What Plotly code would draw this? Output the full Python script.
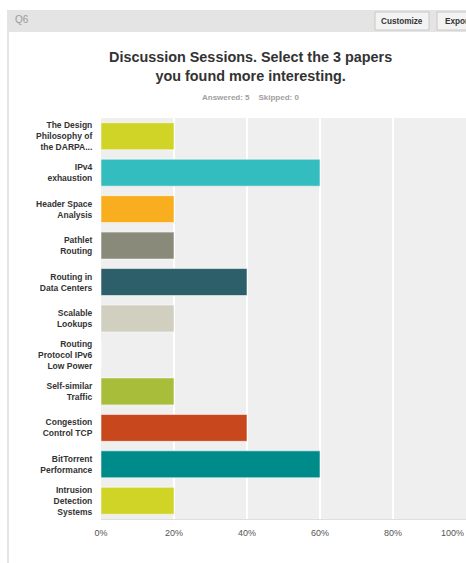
import plotly.graph_objects as go

categories = [
    "The Design<br>Philosophy of<br>the DARPA...",
    "IPv4<br>exhaustion",
    "Header Space<br>Analysis",
    "Pathlet<br>Routing",
    "Routing in<br>Data Centers",
    "Scalable<br>Lookups",
    "Routing<br>Protocol IPv6<br>Low Power",
    "Self-similar<br>Traffic",
    "Congestion<br>Control TCP",
    "BitTorrent<br>Performance",
    "Intrusion<br>Detection<br>Systems",
]
values = [20, 60, 20, 20, 40, 20, 0, 20, 40, 60, 20]
colors = ["#cfd426", "#33bdbf", "#f8ae1f", "#898a79", "#2d5f6b", "#d0cfc0",
          "#cccccc", "#a8bd3a", "#c9471d", "#008b8b", "#cfd426"]
tick_vals = [0, 20, 40, 60, 80, 100]
tick_text = ["0%", "20%", "40%", "60%", "80%", "100%"]

W, H = 466, 563
L, R, T = 101, 0, 118
B = H - 519
PW, PH = W - L - R, H - T - B

def px(x):
    return (x - L) / PW

def py(y):
    return 1 - (y - T) / PH

FONT = "Liberation Sans, Arial, sans-serif"
TICKFONT = dict(family=FONT, size=9, color="#555555")

fig = go.Figure(go.Bar(
    x=values, y=categories, orientation="h",
    marker=dict(color=colors, line=dict(color="rgba(255,255,255,0.55)", width=1)),
    hoverinfo="skip",
))

shapes = [
    dict(type="rect", xref="paper", yref="paper", x0=px(7), x1=px(470), y0=py(10), y1=py(32),
         fillcolor="#e4e4e4", line=dict(width=0), layer="below"),
    dict(type="rect", xref="paper", yref="paper", x0=px(7), x1=px(9), y0=py(10), y1=py(570),
         fillcolor="#e4e4e4", line=dict(width=0), layer="below"),
    dict(type="rect", xref="paper", yref="paper", x0=px(375), x1=px(429), y0=py(12), y1=py(30),
         fillcolor="#f3f3f3", line=dict(color="#c8c8c8", width=1), layer="below"),
    dict(type="rect", xref="paper", yref="paper", x0=px(437), x1=px(490), y0=py(12), y1=py(30),
         fillcolor="#f3f3f3", line=dict(color="#c8c8c8", width=1), layer="below"),
]

annotations = [
    dict(text="Q6", x=px(13), y=py(20), xref="paper", yref="paper", xanchor="left", yanchor="middle",
         showarrow=False, font=dict(family=FONT, size=10, color="#9a9a9a")),
    dict(text="<b>Customize</b>", x=px(402), y=py(21), xref="paper", yref="paper", xanchor="center",
         yanchor="middle", showarrow=False, font=dict(family=FONT, size=8.2, color="#333333")),
    dict(text="<b>Expor</b>", x=px(443), y=py(21), xref="paper", yref="paper", xanchor="left",
         yanchor="middle", showarrow=False, font=dict(family=FONT, size=8.2, color="#333333")),
    dict(text="<b>Discussion Sessions. Select the 3 papers<br>you found more interesting.</b>",
         x=px(250), y=py(66), xref="paper", yref="paper", xanchor="center", yanchor="middle",
         showarrow=False, font=dict(family=FONT, size=14.4, color="#333333")),
    dict(text="<b>Answered: 5&nbsp;&nbsp;&nbsp;&nbsp;Skipped: 0</b>",
         x=px(250), y=py(97), xref="paper", yref="paper", xanchor="center", yanchor="middle",
         showarrow=False, font=dict(family=FONT, size=8, color="#a0a0a0")),
    # last tick label, kept inside the visible page like in the reference
    dict(text=tick_text[-1], x=tick_vals[-1], xref="x", y=py(533), yref="paper",
         xanchor="right", yanchor="middle", showarrow=False, font=TICKFONT),
]

fig.update_layout(
    width=W, height=H,
    margin=dict(l=L, r=R, t=T, b=B, pad=0),
    paper_bgcolor="white", plot_bgcolor="#efefef",
    bargap=0.26, showlegend=False,
    shapes=shapes, annotations=annotations,
    xaxis=dict(range=[0, 100], tickvals=tick_vals[:-1], ticktext=tick_text[:-1], showgrid=True,
               gridcolor="#ffffff", gridwidth=2, zeroline=False, showline=True,
               linecolor="#dedede", linewidth=1, ticks="outside", ticklen=5, tickcolor="rgba(0,0,0,0)",
               tickfont=TICKFONT, fixedrange=True),
    yaxis=dict(autorange="reversed", showgrid=False, zeroline=False, ticks="outside", ticklen=6,
               tickcolor="rgba(0,0,0,0)",
               tickfont=dict(family=FONT, size=8.5, color="#333333", weight="bold"), fixedrange=True),
)

fig.write_html(
    "out.html",
    config={"displayModeBar": False},
    post_script="document.body.style.margin='0';document.body.style.overflow='hidden';"
                "document.documentElement.style.overflow='hidden';",
)
